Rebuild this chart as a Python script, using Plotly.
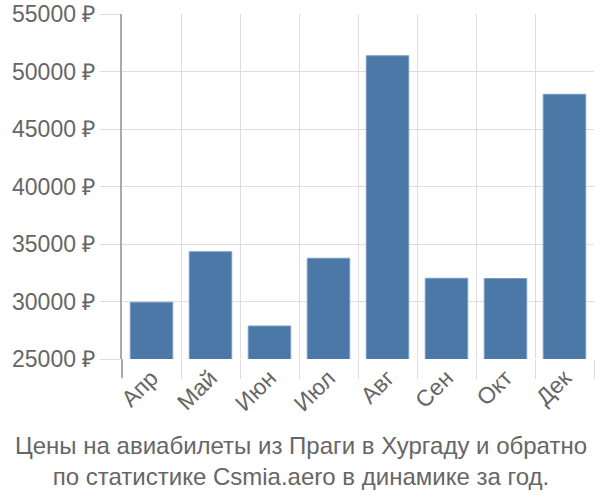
import plotly.graph_objects as go

months = ["Апр", "Май", "Июн", "Июл", "Авг", "Сен", "Окт", "Дек"]
prices = [29930, 34330, 27870, 33760, 51370, 32020, 32000, 48020]
y_ticks = [25000, 30000, 35000, 40000, 45000, 50000, 55000]
title_lines = ["Цены на авиабилеты из Праги в Хургаду и обратно",
               "по статистике Csmia.aero в динамике за год."]

fig = go.Figure(go.Bar(
    x=months, y=prices, base=0,
    marker=dict(color="#4c78a8", line=dict(color="#7a9cc4", width=1)),
    width=0.72,
))

font = "Liberation Sans, Arial, sans-serif"
fig.update_layout(
    width=600, height=500,
    margin=dict(l=122, r=6, t=14, b=141),
    plot_bgcolor="white", paper_bgcolor="white",
    showlegend=False,
    font=dict(family=font, color="#666666", size=20),
    xaxis=dict(
        tickangle=-45, tickson="boundaries", ticks="outside", ticklen=19,
        tickcolor="#dddddd", showgrid=True, gridcolor="#dddddd", gridwidth=1,
        tickfont=dict(size=23, color="#666666"), showline=False, zeroline=False,
        automargin=False,
    ),
    yaxis=dict(
        range=[25000, 55000], tickvals=y_ticks,
        ticktext=[f"{v} ₽" for v in y_ticks],
        ticks="outside", ticklen=20, tickcolor="#dddddd",
        showgrid=True, gridcolor="#dddddd", gridwidth=1,
        showline=True, linecolor="#aaaaaa", linewidth=2,
        tickfont=dict(size=23, color="#666666"), zeroline=False,
        automargin=False,
    ),
    annotations=[dict(
        text="<br>".join(title_lines), xref="paper", yref="paper",
        x=0.38, y=-0.205, xanchor="center", yanchor="top", showarrow=False,
        font=dict(size=24, color="#666666", family=font),
    )],
    shapes=[dict(type="line", xref="paper", yref="paper", x0=0, x1=0,
                 y0=-0.055, y1=0, line=dict(color="#aaaaaa", width=2))],
)
fig.write_html("out.html")
